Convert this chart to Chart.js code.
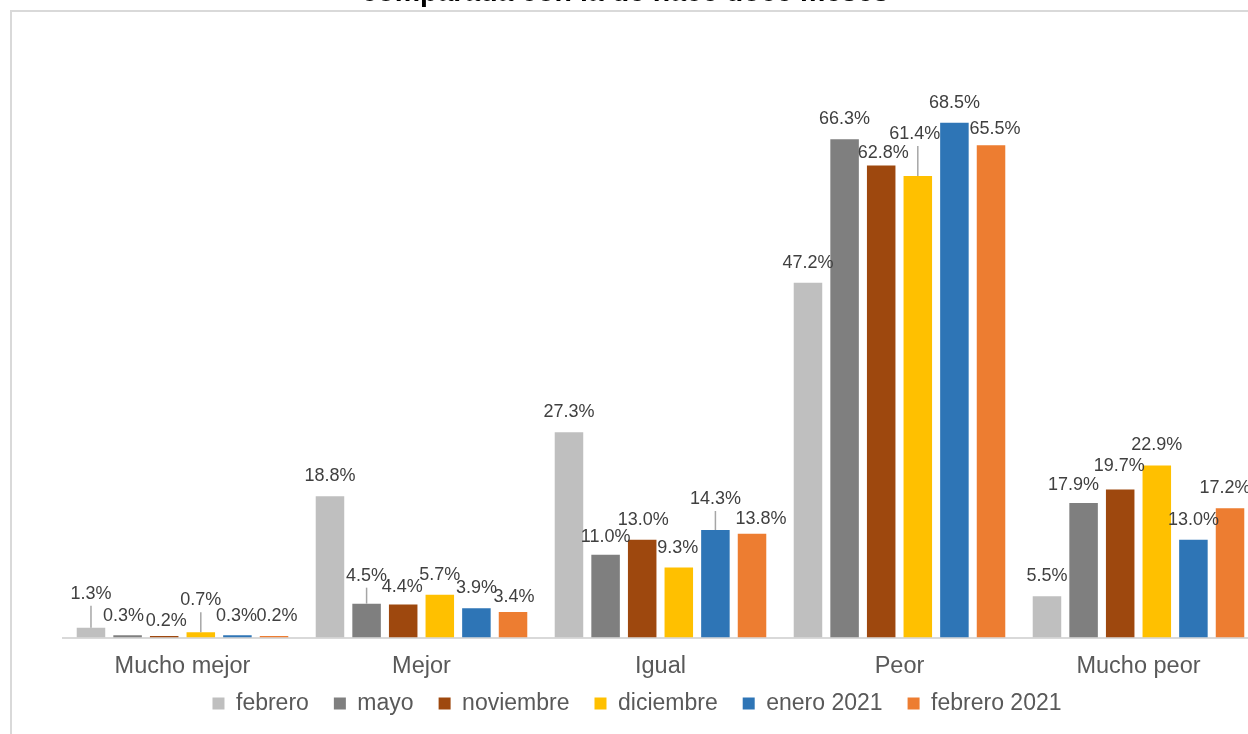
<!DOCTYPE html>
<html lang="es">
<head>
    <meta charset="UTF-8">
    <title>comparada con la de hace doce meses</title>
    <script src="https://cdn.jsdelivr.net/npm/chart.js@4"></script>
    <style>
        html, body {
            margin: 0;
            padding: 0;
            background: #fff;
            width: 1248px;
            height: 734px;
            overflow: hidden;
        }

        .marco {
            position: absolute;
            left: 10px;
            top: 10px;
            width: 1300px;
            height: 800px;
            border-left: 2px solid #d9d9d9;
            border-top: 2px solid #d9d9d9;
        }

        .caja {
            position: absolute;
            left: 0;
            top: -40px;
            width: 1300px;
            height: 774px;
        }
    </style>
</head>

<body>
    <div class="marco"></div>
    <div class="caja"><canvas id="grafico"></canvas></div>

    <script>
        const categorias = ['Mucho mejor', 'Mejor', 'Igual', 'Peor', 'Mucho peor'];
        const series = ['febrero', 'mayo', 'noviembre', 'diciembre', 'enero 2021', 'febrero 2021'];

        const febrero = [1.3, 18.8, 27.3, 47.2, 5.5];
        const mayo = [0.3, 4.5, 11.0, 66.3, 17.9];
        const noviembre = [0.2, 4.4, 13.0, 62.8, 19.7];
        const diciembre = [0.7, 5.7, 9.3, 61.4, 22.9];
        const enero2021 = [0.3, 3.9, 14.3, 68.5, 13.0];
        const febrero2021 = [0.2, 3.4, 13.8, 65.5, 17.2];

        const colores = ['#bfbfbf', '#7f7f7f', '#9e480e', '#ffc000', '#2e75b6', '#ed7d31'];
        const valores = [febrero, mayo, noviembre, diciembre, enero2021, febrero2021];

        const fuente = 'Arial, "Liberation Sans", sans-serif';

        // desplazamiento de etiquetas "serie-categoria": [dx, dy, linea guia]
        const ajustes = {
            '0-0': [0, -14, true], '1-0': [-4, 1], '2-0': [2, 5], '3-0': [0, -12, true], '4-0': [-1, 1], '5-0': [3, 0],
            '1-1': [0, -8, true], '2-1': [-1, 3], '5-1': [1, 5],
            '1-2': [0, 2], '2-2': [1, 0], '3-2': [-1, 0], '4-2': [0, -11, true], '5-2': [9, 5],
            '2-3': [2, 8], '3-3': [-3, -22, true], '5-3': [4, 4],
            '1-4': [-10, 2], '2-4': [-1, -3], '5-4': [-5, 0]
        };

        const etiquetas = {
            id: 'etiquetas',
            beforeDraw(chart) {
                // el eje x es bajo; no recortar sus textos
                chart.scales.x._computeLabelArea = () => undefined;
            },
            afterDatasetsDraw(chart) {
                const ctx = chart.ctx;
                ctx.save();
                ctx.font = '18px ' + fuente;
                ctx.textAlign = 'center';
                ctx.textBaseline = 'middle';
                chart.data.datasets.forEach((ds, i) => {
                    chart.getDatasetMeta(i).data.forEach((bar, j) => {
                        const a = ajustes[i + '-' + j] || [0, 0];
                        const x = bar.x + a[0];
                        const y = bar.y - 20 + a[1];
                        if (a[2]) {
                            ctx.strokeStyle = '#a6a6a6';
                            ctx.lineWidth = 1.5;
                            ctx.beginPath();
                            ctx.moveTo(bar.x, y + 12);
                            ctx.lineTo(bar.x, bar.y);
                            ctx.stroke();
                        }
                        ctx.fillStyle = '#404040';
                        ctx.fillText(ds.data[j].toFixed(1) + '%', x, y);
                    });
                });
                ctx.restore();
            }
        };

        const ctx = document.getElementById('grafico').getContext('2d');
        new Chart(ctx, {
            type: 'bar',
            data: {
                labels: categorias,
                datasets: series.map((nombre, i) => ({
                    label: nombre,
                    data: valores[i],
                    backgroundColor: colores[i],
                    categoryPercentage: 0.919,
                    barPercentage: 0.779
                }))
            },
            options: {
                responsive: true,
                maintainAspectRatio: false,
                animation: false,
                layout: { padding: { left: 16, right: 42, top: 0, bottom: 9 } },
                plugins: {
                    title: {
                        display: true,
                        text: 'comparada con la de hace doce meses\u00a0\u00a0\u00a0',
                        color: '#000',
                        font: { family: fuente, size: 28.5, weight: 'bold', lineHeight: 1.2 },
                        padding: { top: 16, bottom: 26 }
                    },
                    legend: {
                        position: 'bottom',
                        labels: {
                            color: '#595959',
                            font: { family: fuente, size: 23 },
                            boxWidth: 12,
                            boxHeight: 12,
                            padding: 25
                        }
                    },
                    tooltip: { enabled: false }
                },
                scales: {
                    x: {
                        grid: { display: false, drawTicks: false },
                        border: { display: true, color: '#d9d9d9', width: 2 },
                        ticks: {
                            color: '#595959',
                            font: { family: fuente, size: 23.5, lineHeight: 1.2 },
                            padding: 15,
                            maxRotation: 0
                        },
                        afterFit: s => { s.height = 29.5; }
                    },
                    y: {
                        min: 0,
                        max: 80,
                        grid: { display: false, drawTicks: false },
                        border: { display: false },
                        ticks: { display: false },
                        afterFit: s => { s.width = 47; }
                    }
                }
            },
            plugins: [etiquetas]
        });
    </script>
</body>

</html>
